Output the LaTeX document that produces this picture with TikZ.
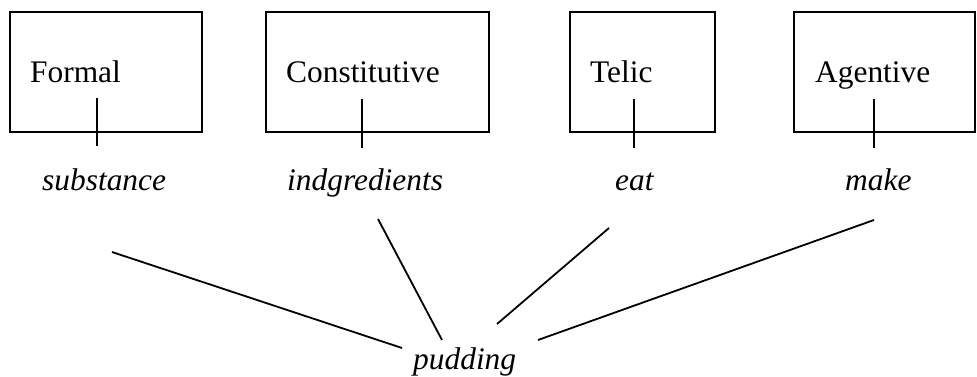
\documentclass[tikz,border=0pt]{standalone}
\usepackage{fontspec}
\setmainfont{Liberation Serif}
\begin{document}
\begin{tikzpicture}[x=1pt,y=-1pt,
  qualebox/.style={draw,line width=1.8pt,inner sep=0pt},
  rolename/.style={anchor=base west,inner sep=0pt,font=\fontsize{31.4}{36}\selectfont},
  rolevalue/.style={anchor=base west,inner sep=0pt,font=\fontsize{31.4}{36}\selectfont\itshape},
  link/.style={line width=1.8pt}]
  \useasboundingbox (0,0) rectangle (977,377);

  % quale boxes
  \node[qualebox,minimum width=192pt,minimum height=120pt] (formal) at (106,72) {};
  \node[qualebox,minimum width=223pt,minimum height=120pt] (const) at (377.5,72) {};
  \node[qualebox,minimum width=145pt,minimum height=120pt] (telic) at (642.5,72) {};
  \node[qualebox,minimum width=181pt,minimum height=120pt] (agent) at (884.5,72) {};

  % role names inside the boxes
  \node[rolename] (tformal) at (30,83) {Formal};
  \node[rolename] (tconst) at (286,83) {Constitutive};
  \node[rolename] (ttelic) at (590,83) {Telic};
  \node[rolename] (tagent) at (815,83) {Agentive};

  % role values
  \node[rolevalue] (vformal) at (42,190) {substance};
  \node[rolevalue] (vconst) at (287,190) {indgredients};
  \node[rolevalue] (vtelic) at (615,190) {eat};
  \node[rolevalue] (vagent) at (845,190) {make};

  % the lexical item
  \node[rolevalue] (pudding) at (413,369) {pudding};

  % ticks through the bottom edge of each box
  \coordinate (k1a) at (97,98);  \coordinate (k1b) at (97,146);
  \coordinate (k2a) at (362,99); \coordinate (k2b) at (362,148);
  \coordinate (k3a) at (634,99); \coordinate (k3b) at (634,148);
  \coordinate (k4a) at (874,99); \coordinate (k4b) at (874,148);
  \draw[link] (k1a) -- (k1b);
  \draw[link] (k2a) -- (k2b);
  \draw[link] (k3a) -- (k3b);
  \draw[link] (k4a) -- (k4b);

  % fan of lines towards the lexical item
  \coordinate (f1a) at (112,252); \coordinate (f1b) at (402,348);
  \coordinate (f2a) at (378,219); \coordinate (f2b) at (442,340);
  \coordinate (f3a) at (609,228); \coordinate (f3b) at (497,324);
  \coordinate (f4a) at (874,220); \coordinate (f4b) at (538,340);
  \draw[link] (f1a) -- (f1b);
  \draw[link] (f2a) -- (f2b);
  \draw[link] (f3a) -- (f3b);
  \draw[link] (f4a) -- (f4b);
\end{tikzpicture}
\end{document}
